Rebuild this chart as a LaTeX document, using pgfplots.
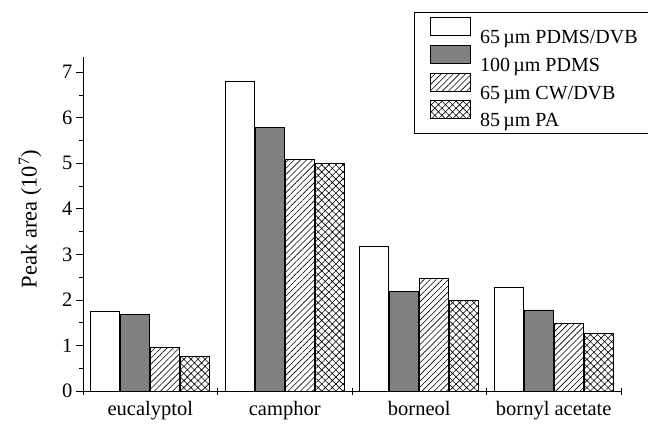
\documentclass[border=0pt]{standalone}
\usepackage{fontspec}
\setmainfont{Liberation Serif}
\usepackage{pgfplots}
\pgfplotsset{compat=1.18}
\usetikzlibrary{patterns.meta}
\definecolor{bargray}{RGB}{128,128,128}
\newcommand\lstrut{\rule[-5bp]{0pt}{27.3bp}}

\pgfplotstableread{
x  pdmsdvb pdms cwdvb pa
0  1.74    1.69 0.96  0.77
1  6.80    5.78 5.08  4.99
2  3.17    2.18 2.48  1.98
3  2.28    1.78 1.49  1.27
}\datatable

\pgfplotsset{
  boxlegend/.style={legend image code/.code={\draw[##1,line width=0.8bp] (0bp,-2.5bp) rectangle (40bp,15.5bp);}},
}

\begin{document}
\begin{tikzpicture}
\begin{axis}[
  scale only axis, width=538bp, height=334.3bp,
  xmin=-0.5, xmax=3.5, ymin=0, ymax=7.34,
  ybar=0pt,
  axis lines*=left,
  axis line style={line width=0.9bp, black},
  xtick={-0.5,0.5,1.5,2.5,3.5},
  x tick label as interval,
  xticklabels={eucalyptol,camphor,borneol,bornyl acetate},
  ytick={0,1,2,3,4,5,6,7},
  minor y tick num=1,
  ytick align=outside, xtick align=center,
  major tick length=7bp, minor tick length=4bp,
  tick style={line width=0.8bp, black},
  font=\fontsize{20.5bp}{24bp}\selectfont,
  /pgf/number format/assume math mode=true,
  ylabel={Peak area (10\textsuperscript{7})},
  ylabel style={at={(axis description cs:-0.0985,0.514)}, anchor=center, font=\fontsize{22.5bp}{26bp}\selectfont},
  xticklabel style={yshift=-3bp},
  legend cell align=left,
  legend style={at={(axis description cs:0.615,1.1346)}, anchor=north west,
    draw=black, line width=0.8bp, fill=white,
    inner xsep=16bp, inner ysep=5bp, row sep=0pt,
    nodes={inner sep=0pt},
    /tikz/every odd column/.append style={column sep=9bp},
    font=\fontsize{20bp}{24bp}\selectfont},
]
\addplot[boxlegend, bar width=0.215, bar shift=-0.335, draw=black, line width=0.8bp, fill=white]
  table[x=x, y=pdmsdvb] {\datatable};
\addlegendentry{\lstrut 65\,µm PDMS/DVB}
\addplot[boxlegend, bar width=0.215, bar shift=-0.112, draw=black, line width=0.8bp, fill=bargray]
  table[x=x, y=pdms] {\datatable};
\addlegendentry{\lstrut 100\,µm PDMS}
\addplot[boxlegend, bar width=0.215, bar shift=0.112, draw=black, line width=0.8bp,
  pattern={Lines[angle=45,distance=4.3bp,line width=0.6bp]}]
  table[x=x, y=cwdvb] {\datatable};
\addlegendentry{\lstrut 65\,µm CW/DVB}
\addplot[boxlegend, bar width=0.215, bar shift=0.335, draw=black, line width=0.8bp,
  pattern={Hatch[angle=45,distance=5bp,line width=0.6bp]}]
  table[x=x, y=pa] {\datatable};
\addlegendentry{\lstrut 85\,µm PA}
\end{axis}
\pgfresetboundingbox
\path (current axis.south west) ++(-83bp,-39bp) rectangle ++(648bp,430bp);
\end{tikzpicture}
\end{document}
